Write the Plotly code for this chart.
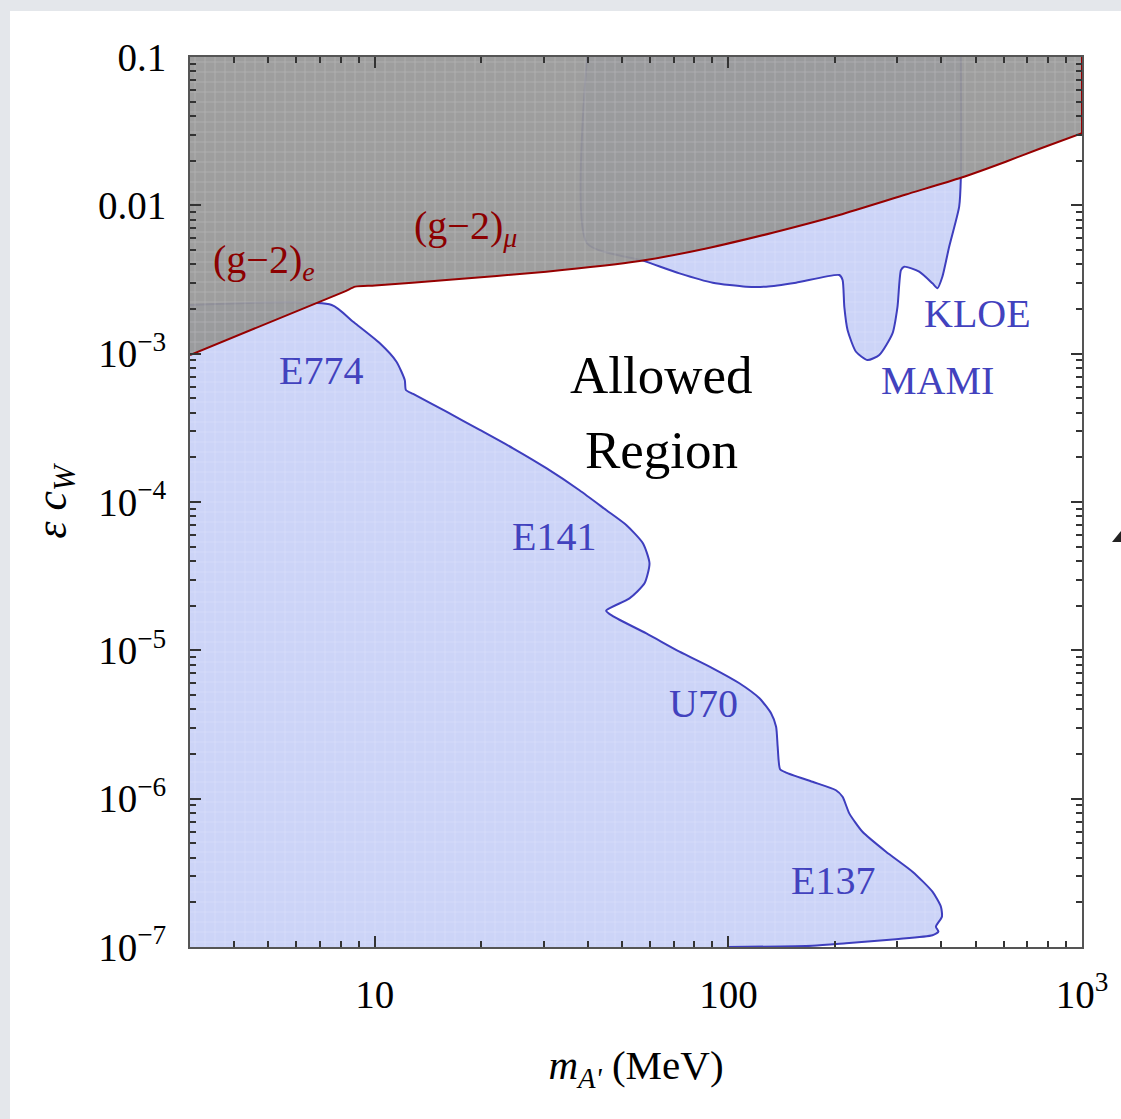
import numpy as np
import plotly.graph_objects as go

# (g-2)_e and (g-2)_mu bound on the kinetic mixing
g2_mass = [3.0, 8.2, 8.8, 10.0, 15.94, 30.55, 56.1, 86.5, 133.4, 205.9, 317.7, 454.3,
           608.6, 756.0, 1000.0]
g2_eps = [9.8e-4, 2.62e-3, 2.83e-3, 2.88e-3, 3.14e-3, 3.57e-3, 4.21e-3, 5.12e-3, 6.54e-3,
          8.61e-3, 1.183e-2, 1.533e-2, 1.968e-2, 2.399e-2, 3.06e-2]

# beam-dump exclusion (E774, E141, U70, E137), traced clockwise
dump_mass = [3.0, 7.55, 8.68, 10.33, 11.51, 12.15, 12.24, 12.83, 15.94, 19.80, 24.59,
             30.55, 37.9, 45.1, 51.4, 57.3, 59.8, 57.9, 52.5, 45.1, 47.1, 58.6, 72.7,
             90.3, 107.4, 122.4, 132.0, 136.4, 137.8, 140.0, 145.5, 173.0, 201.4, 210.3,
             219.7, 239.4, 279.0, 331.6, 377.6, 399.0, 401.6, 386.2, 392.6, 377.6, 297.7,
             215.0, 173.0, 99.6, 3.0]
dump_eps = [2.13e-3, 2.13e-3, 1.64e-3, 1.175e-3, 8.83e-4, 6.64e-4, 5.69e-4, 5.35e-4,
            4.06e-4, 3.06e-4, 2.30e-4, 1.69e-4, 1.20e-4, 8.83e-5, 7.0e-5, 5.27e-5,
            3.86e-5, 2.83e-5, 2.24e-5, 1.85e-5, 1.70e-5, 1.30e-5, 9.8e-6, 7.57e-6,
            6.0e-6, 4.75e-6, 3.76e-6, 3.05e-6, 2.24e-6, 1.58e-6, 1.50e-6, 1.30e-6,
            1.14e-6, 1.03e-6, 7.96e-7, 5.98e-7, 4.39e-7, 3.22e-7, 2.36e-7, 1.87e-7,
            1.60e-7, 1.37e-7, 1.27e-7, 1.20e-7, 1.13e-7, 1.06e-7, 1.02e-7, 1.0e-7, 1.0e-7]

# KLOE / MAMI exclusion
kloe_mass = [39.8, 39.8, 57.3, 72.7, 90.3, 112.2, 127.8, 155.3, 205.9, 210.3, 212.7,
             217.3, 229.5, 247.5, 267.1, 291.1, 300.7, 307.6, 314.2, 346.3, 377.6,
             390.1, 402.8, 421.0, 449.4, 454.3, 454.3]
kloe_eps = [0.1, 5.55e-3, 4.24e-3, 3.48e-3, 3.01e-3, 2.83e-3, 2.83e-3, 3.01e-3, 3.39e-3,
            3.14e-3, 2.07e-3, 1.44e-3, 1.03e-3, 9.06e-4, 9.8e-4, 1.37e-3, 2.07e-3,
            3.66e-3, 3.86e-3, 3.57e-3, 2.98e-3, 2.76e-3, 3.30e-3, 5.26e-3, 9.8e-3,
            1.533e-2, 0.1]

# labels: (text, mass, eps)
region_labels = [("E774", 7.04, 7.76e-4), ("E141", 32.2, 5.81e-5), ("U70", 84.9, 4.35e-6),
                 ("E137", 198.0, 2.79e-7), ("KLOE", 505.0, 1.88e-3), ("MAMI", 389.0, 6.64e-4)]
g2_labels = [("(g\u22122)<sub><i>e</i></sub>", 4.86, 4.15e-3),
             ("(g\u22122)<sub><i>\u03bc</i></sub>", 18.1, 7.03e-3)]
allowed_labels = [("Allowed", 64.7, 7.18e-4), ("Region", 64.7, 2.24e-4)]

x_ticks = [10, 100, 1000]
x_ticktext = ["10", "100", "10<sup>3</sup>"]
y_ticks = [1e-7, 1e-6, 1e-5, 1e-4, 1e-3, 1e-2, 1e-1]
y_ticktext = ["10<sup>\u22127</sup>", "10<sup>\u22126</sup>", "10<sup>\u22125</sup>",
              "10<sup>\u22124</sup>", "10<sup>\u22123</sup>", "0.01", "0.1"]

X_MIN, X_MAX = 3.0, 1000.0
Y_MIN, Y_MAX = 1e-7, 0.1

FONT = "Liberation Serif, Times New Roman, serif"
BLUE_FILL = "rgb(204,212,247)"
BLUE_LINE = "rgb(62,62,190)"
GRAY_FILL = "rgba(150,150,150,0.93)"
RED = "rgb(150,0,0)"
LABEL_BLUE = "rgb(66,66,190)"
LABEL_RED = "rgb(140,0,0)"
SMOOTH = 0.6

mesh = dict(shape="+", fgcolor="white", fgopacity=0.35, size=10, solidity=0.08)

fig = go.Figure()

# filled exclusion regions
for xs, ys in ((dump_mass, dump_eps), (kloe_mass, kloe_eps)):
    fig.add_trace(go.Scatter(x=xs, y=ys, fill="toself", fillcolor=BLUE_FILL,
                             fillpattern=dict(bgcolor=BLUE_FILL, **mesh), mode="lines",
                             line=dict(width=0, shape="spline", smoothing=SMOOTH),
                             hoverinfo="skip", showlegend=False))
# outlines of the experimental regions
fig.add_trace(go.Scatter(x=dump_mass[:-1], y=dump_eps[:-1], mode="lines",
                         line=dict(color=BLUE_LINE, width=2, shape="spline", smoothing=SMOOTH),
                         hoverinfo="skip", showlegend=False))
fig.add_trace(go.Scatter(x=kloe_mass, y=kloe_eps, mode="lines",
                         line=dict(color=BLUE_LINE, width=2, shape="spline", smoothing=SMOOTH),
                         hoverinfo="skip", showlegend=False))

# (g-2) excluded band: from the plot top down to the curve
fig.add_trace(go.Scatter(x=g2_mass, y=[Y_MAX] * len(g2_mass), mode="lines",
                         line=dict(width=0), hoverinfo="skip", showlegend=False))
fig.add_trace(go.Scatter(x=g2_mass, y=g2_eps, fill="tonexty", fillcolor=GRAY_FILL,
                         fillpattern=dict(bgcolor=GRAY_FILL, **mesh), mode="lines",
                         line=dict(color=RED, width=2, shape="spline", smoothing=SMOOTH),
                         hoverinfo="skip", showlegend=False))
# red edge of the band along the right-hand border
fig.add_trace(go.Scatter(x=[g2_mass[-1], g2_mass[-1]], y=[g2_eps[-1], Y_MAX], mode="lines",
                         line=dict(color=RED, width=2), hoverinfo="skip", showlegend=False))

for text, m, e in region_labels:
    fig.add_annotation(x=np.log10(m), y=np.log10(e), text=text, showarrow=False,
                       font=dict(family=FONT, size=40, color=LABEL_BLUE))
for text, m, e in g2_labels:
    fig.add_annotation(x=np.log10(m), y=np.log10(e), text=text, showarrow=False,
                       font=dict(family=FONT, size=40, color=LABEL_RED))
for text, m, e in allowed_labels:
    fig.add_annotation(x=np.log10(m), y=np.log10(e), text=text, showarrow=False,
                       font=dict(family=FONT, size=53, color="black"))

minor_x = [k * 10 ** d for d in range(0, 3) for k in range(2, 10) if X_MIN < k * 10 ** d < X_MAX]
minor_y = [k * 10.0 ** d for d in range(-7, -1) for k in range(2, 10)]

axis_common = dict(type="log", showgrid=False, zeroline=False, showline=True,
                   linecolor="#555", linewidth=2, mirror="ticks", ticks="inside",
                   ticklen=11, tickwidth=1.5, tickcolor="#333",
                   tickfont=dict(family=FONT, size=39, color="black"))

fig.update_xaxes(range=[np.log10(X_MIN), np.log10(X_MAX)], tickvals=x_ticks,
                 ticktext=x_ticktext, ticklabelstandoff=12,
                 minor=dict(tickvals=minor_x, ticks="inside", ticklen=6, tickcolor="#333"),
                 title=dict(text="<i>m</i><sub><i>A'</i></sub> (MeV)", standoff=36,
                            font=dict(family=FONT, size=41, color="black")),
                 **axis_common)
fig.update_yaxes(range=[np.log10(Y_MIN), np.log10(Y_MAX)], tickvals=y_ticks,
                 ticktext=y_ticktext, ticklabelstandoff=14,
                 minor=dict(tickvals=minor_y, ticks="inside", ticklen=6, tickcolor="#333"),
                 title=dict(text="<i>\u03b5 c</i><sub><i>W</i></sub>", standoff=18,
                            font=dict(family=FONT, size=44, color="black")),
                 **axis_common)

# white slide panel and the clipped arrow head at its right edge
fig.add_shape(type="rect", xref="paper", yref="paper", x0=-0.2018, x1=1.1, y0=-0.25,
              y1=1.0517, fillcolor="white", line=dict(width=0), layer="below")
fig.add_shape(type="path", xref="paper", yref="paper",
              path="M 1.0336 0.4551 L 1.0437 0.4674 L 1.0437 0.4551 Z",
              fillcolor="#222", line=dict(width=0))

fig.update_layout(width=1121, height=1119, margin=dict(l=190, r=39, t=57, b=172),
                  paper_bgcolor="#e4e7eb", plot_bgcolor="white", showlegend=False,
                  font=dict(family=FONT))

fig.write_html("out.html")
